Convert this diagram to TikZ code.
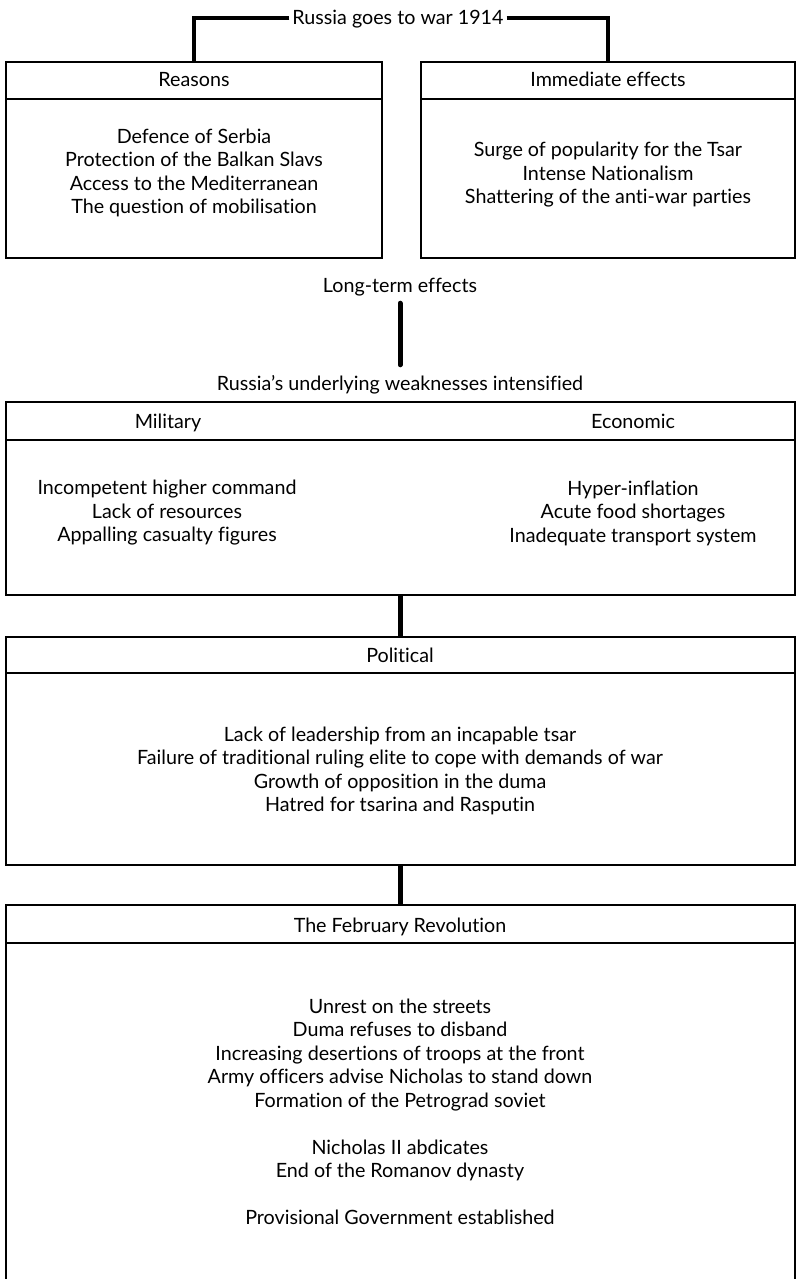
\documentclass[tikz,border=0pt]{standalone}
\usepackage{fontspec}
\setmainfont[Ligatures=NoCommon]{Lato}

\tikzset{
  box/.style={draw=black, line width=2pt, fill=white, inner sep=0pt},
  rule/.style={line width=1.8pt},
  bracket/.style={line width=3.6pt},
  bar/.style={line width=5pt, line cap=round},
  link/.style={line width=4.5pt},
  lbl/.style={inner sep=3pt, align=center, font=\fontsize{19.7}{23.5}\selectfont},
  head/.style={lbl, text height=17pt, text depth=3pt},
}

\begin{document}
\begin{tikzpicture}[x=1pt,y=-1pt]
\useasboundingbox (0,0) rectangle (797,1279);
% war 1914
\node[head] (war) at (398,18) {Russia goes to war 1914};
\node[box, minimum width=376pt, minimum height=196pt] (reasons) at (194,160) {};
\node[box, minimum width=374pt, minimum height=196pt] (effects) at (608,160) {};
\draw[rule] (reasons.west |- 0,99) -- (reasons.east |- 0,99);
\draw[rule] (effects.west |- 0,99) -- (effects.east |- 0,99);
\draw[bracket] (war.west) -| (reasons.north);
\draw[bracket] (war.east) -| (effects.north);
\node[head] (reasonshead) at (194,80) {Reasons};
\node[head] (effectshead) at (608,80) {Immediate effects};
\node[lbl] (reasonslist) at (194,173) {Defence of Serbia\\Protection of the Balkan Slavs\\Access to the Mediterranean\\The question of mobilisation};
\node[lbl] (effectslist) at (608,175) {Surge of popularity for the Tsar\\Intense Nationalism\\Shattering of the anti-war parties};

% long-term
\node[head] (longterm) at (400,285) {Long-term effects};
\node[head] (under) at (400,383) {Russia's underlying weaknesses intensified};
\draw[bar, shorten <=5pt, shorten >=5pt] (longterm.south) -- (under.north);

% military and economic
\node[box, minimum width=789pt, minimum height=193pt] (weak) at (400.5,498.5) {};
\draw[rule] (weak.west |- 0,440) -- (weak.east |- 0,440);
\node[head] (milhead) at (168,421) {Military};
\node[head] (ecohead) at (633,421) {Economic};
\node[lbl] (millist) at (167,513) {Incompetent higher command\\Lack of resources\\Appalling casualty figures};
\node[lbl] (ecolist) at (633,513) {Hyper-inflation\\Acute food shortages\\Inadequate transport system};

% political
\node[box, minimum width=789pt, minimum height=228pt] (political) at (400.5,751) {};
\draw[rule] (political.west |- 0,673) -- (political.east |- 0,673);
\node[head] (polhead) at (400,655) {Political};
\node[lbl] (pollist) at (400,771) {Lack of leadership from an incapable tsar\\Failure of traditional ruling elite to cope with demands of war\\Growth of opposition in the duma\\Hatred for tsarina and Rasputin};

% february
\node[box, minimum width=789pt, minimum height=400pt] (february) at (400.5,1105) {};
\draw[rule] (february.west |- 0,943) -- (february.east |- 0,943);
\node[head] (febhead) at (400,925) {The February Revolution};
\node[lbl] (feblist) at (400,1112) {Unrest on the streets\\Duma refuses to disband\\Increasing desertions of troops at the front\\Army officers advise Nicholas to stand down\\Formation of the Petrograd soviet\\[23.5pt]Nicholas II abdicates\\End of the Romanov dynasty\\[23.5pt]Provisional Government established};

\draw[link] (weak.south) -- (political.north);
\draw[link] (political.south) -- (february.north);
\end{tikzpicture}
\end{document}
